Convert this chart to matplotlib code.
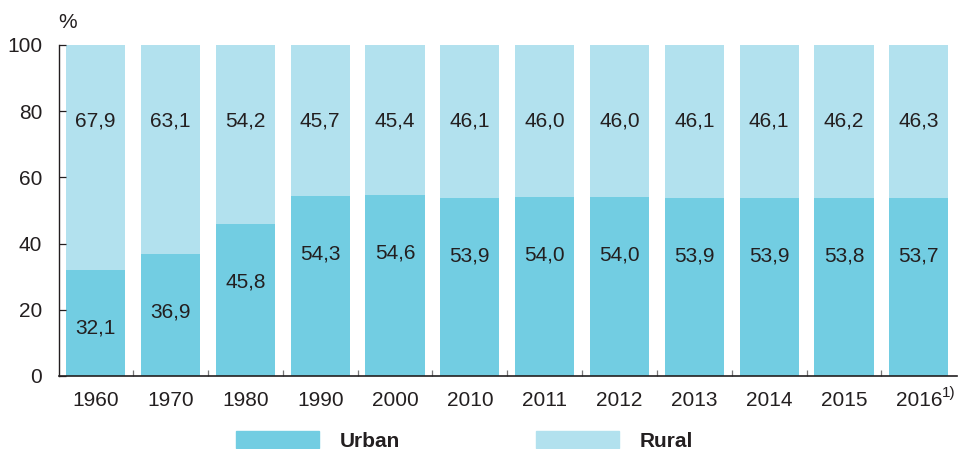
import numpy as np
import matplotlib
matplotlib.use("Agg")
import matplotlib.pyplot as plt
from matplotlib.patches import Patch

years = ["1960", "1970", "1980", "1990", "2000", "2010", "2011", "2012", "2013", "2014", "2015", "2016"]
urban = [32.1, 36.9, 45.8, 54.3, 54.6, 53.9, 54.0, 54.0, 53.9, 53.9, 53.8, 53.7]
rural = [67.9, 63.1, 54.2, 45.7, 45.4, 46.1, 46.0, 46.0, 46.1, 46.1, 46.2, 46.3]

urban_color = "#72cde2"
rural_color = "#b2e1ee"
text_color = "#231f20"


def fmt(v):
    return ("%.1f" % v).replace(".", ",")


def main():
    plt.rcParams["font.family"] = ["Liberation Sans", "DejaVu Sans"]
    fig = plt.figure(figsize=(9.58, 4.49), dpi=100)
    ax = fig.add_axes([0.0616, 0.1626, 0.9374, 0.7372])

    x = np.arange(len(years))
    ax.bar(x, urban, width=0.79, color=urban_color, clip_on=False, zorder=1)
    ax.bar(x, rural, width=0.79, bottom=urban, color=rural_color, clip_on=False, zorder=1)

    for i in range(len(years)):
        ax.text(x[i], urban[i] - 17.5, fmt(urban[i]), ha="center", va="center",
                fontsize=15, color=text_color)
        ax.text(x[i], 77, fmt(rural[i]), ha="center", va="center",
                fontsize=15, color=text_color)

    ax.set_xlim(-0.49, len(years) - 0.49)
    ax.set_ylim(0, 100)
    ax.set_yticks([0, 20, 40, 60, 80, 100])
    ax.tick_params(axis="y", labelsize=15, colors=text_color, direction="in",
                   length=5, width=0.9, pad=12)
    ax.set_xticks(x)
    ax.set_xticklabels(years)
    ax.tick_params(axis="x", which="major", length=0, labelsize=15, colors=text_color, pad=11)
    ax.set_xticks(x[:-1] + 0.5, minor=True)
    ax.tick_params(axis="x", which="minor", direction="in", length=4, width=0.9, color="#777777")

    ax.spines["right"].set_visible(False)
    ax.spines["top"].set_visible(False)
    ax.spines["left"].set_color(text_color)
    ax.spines["bottom"].set_color(text_color)
    ax.spines["left"].set_linewidth(1.0)
    ax.spines["bottom"].set_linewidth(1.2)

    fig.text(0.071, 0.951, "%", fontsize=15, color=text_color, ha="center", va="center")
    # footnote marker on last year
    fig.text(0.983, 0.125, "1)", fontsize=11, color=text_color, ha="left", va="center")

    handles = [Patch(color=urban_color), Patch(color=rural_color)]
    leg = fig.legend(handles, ["Urban", "Rural"], loc="center", ncol=2,
                     bbox_to_anchor=(0.485, 0.018), frameon=False,
                     handlelength=4.0, handleheight=0.85, handletextpad=1.0,
                     columnspacing=6.5, prop={"weight": "bold", "size": 15})
    for t in leg.get_texts():
        t.set_color(text_color)

    plt.savefig("out.png", dpi=100)


if __name__ == '__main__':
    main()
